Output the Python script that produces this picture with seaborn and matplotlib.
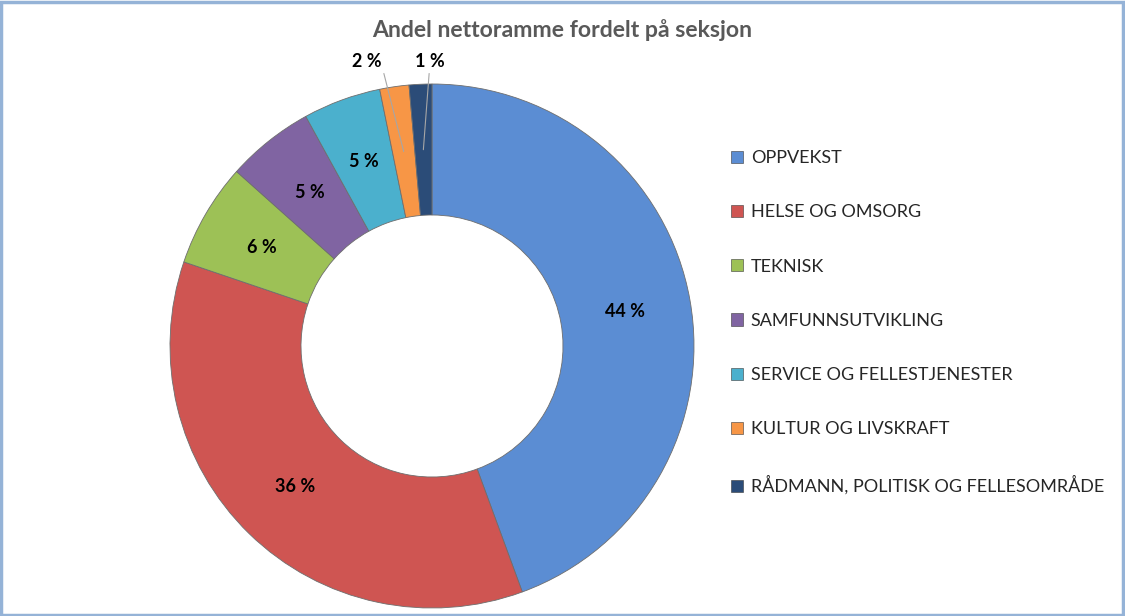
import matplotlib
matplotlib.use("Agg")
import matplotlib.pyplot as plt
import matplotlib.patches as mpatches
import seaborn as sns
import numpy as np

categories = ["OPPVEKST", "HELSE OG OMSORG", "TEKNISK", "SAMFUNNSUTVIKLING",
              "SERVICE OG FELLESTJENESTER", "KULTUR OG LIVSKRAFT",
              "RÅDMANN, POLITISK OG FELLESOMRÅDE"]
shares = [44.4, 35.8, 6.4, 5.4, 4.8, 1.8, 1.4]
colors = ["#5B8DD3", "#CF5552", "#9DC156", "#8064A2", "#4BB0CD", "#F79646", "#2B4C78"]
title = "Andel nettoramme fordelt på seksjon"

sns.set_theme(style="white")
plt.rcParams["font.family"] = ["Lato", "DejaVu Sans"]

W, H = 1125, 616
fig = plt.figure(figsize=(W / 100, H / 100), dpi=100)
fig.patch.set_facecolor("white")

cx, cy, R = 432, 346, 262
ax = fig.add_axes([(cx - R) / W, (H - cy - R) / H, 2 * R / W, 2 * R / H])

wedges, _ = ax.pie(shares, colors=colors, startangle=90, counterclock=False,
                   radius=1.0,
                   wedgeprops=dict(width=0.5, edgecolor="#6e6e6e", linewidth=0.6))
ax.set_xlim(-1, 1)
ax.set_ylim(-1, 1)
ax.set_aspect("equal")
ax.axis("off")

for i, w in enumerate(wedges):
    mid = np.deg2rad((w.theta1 + w.theta2) / 2)
    r = 0.75
    x, y = r * np.cos(mid), r * np.sin(mid)
    lab = f"{round(shares[i]):d} %"
    if shares[i] < 3:
        tx = -0.25 if i == 5 else -0.01
        ax.annotate(lab, xy=(x, y), xytext=(tx, 1.085), ha="center", va="center",
                    fontsize=13, fontweight="bold", color="black",
                    arrowprops=dict(arrowstyle="-", color="#a6a6a6", lw=0.8,
                                    shrinkA=0, shrinkB=0,
                                    relpos=(1.0, 0.4) if i == 5 else (0.5, 0.0)))
    else:
        ax.text(x, y, lab, ha="center", va="center", fontsize=13,
                fontweight="bold", color="black")

fig.text(562 / W, 1 - 30 / H, title, ha="center", va="center", fontsize=16.6,
         fontweight="bold", color="#595959")

handles = [mpatches.Patch(facecolor=c, edgecolor="#3a3a3a", linewidth=0.4) for c in colors]
fig.legend(handles, categories, loc="upper left", bbox_to_anchor=(731 / W, 1 - 150 / H),
           frameon=False, fontsize=13, handlelength=0.65, handleheight=0.65,
           handletextpad=0.45, labelspacing=2.12, borderaxespad=0, borderpad=0)

fig.patches.append(mpatches.Rectangle((0.001, 0.002), 0.997, 0.995, transform=fig.transFigure,
                                      fill=False, edgecolor="#95B3D7", linewidth=2.5))

fig.savefig("out.png", dpi=100, facecolor="white")
